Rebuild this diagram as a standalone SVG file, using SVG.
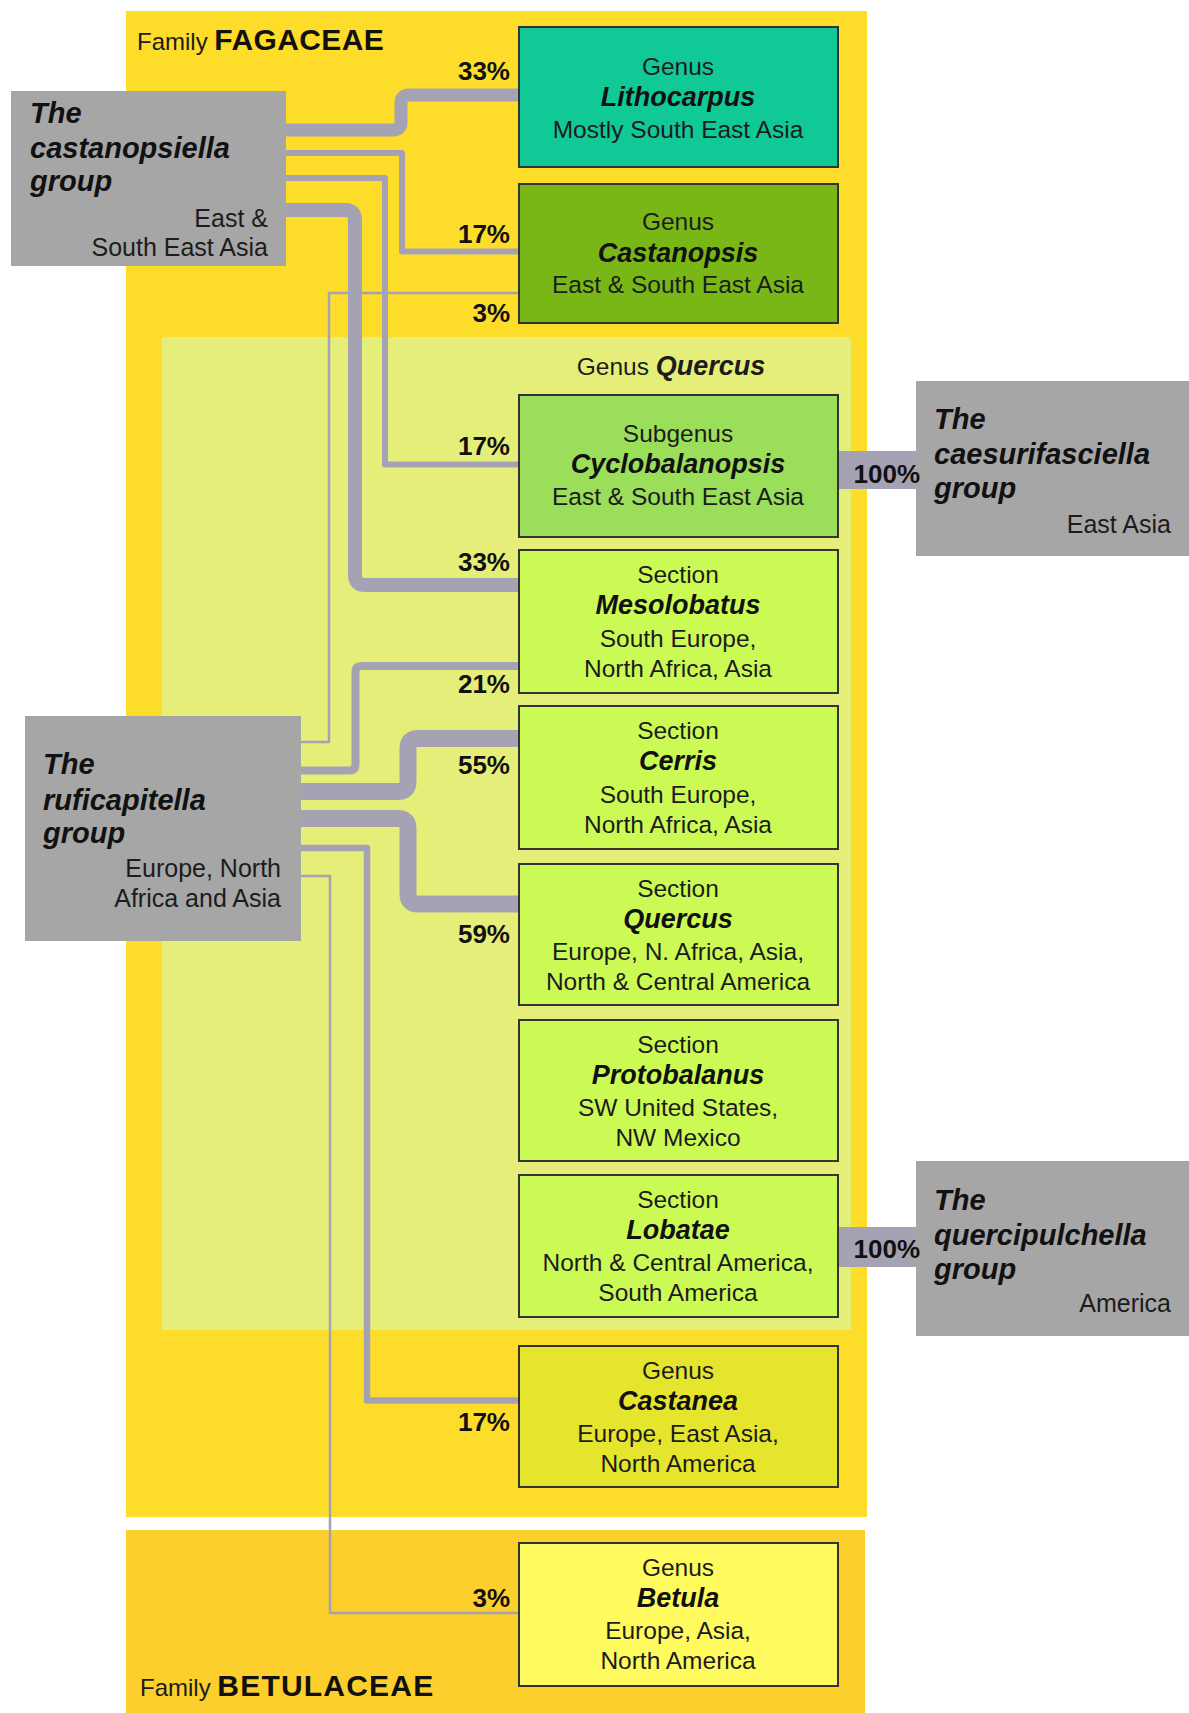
<svg xmlns="http://www.w3.org/2000/svg" width="1189" height="1713" viewBox="0 0 1189 1713">
<style>
text{font-family:"Liberation Sans",Arial,sans-serif;fill:#1c1c1c}
.reg{font-size:24.5px;text-anchor:middle}
.name{font-size:27px;font-weight:bold;font-style:italic;text-anchor:middle;fill:#111}
.pct{font-size:26px;font-weight:bold;text-anchor:end;fill:#111}
.grp{fill:#a6a6a6}
.gt{font-size:29px;font-weight:bold;font-style:italic;fill:#111}
.gr{font-size:25px;text-anchor:end}
.box{stroke:#333;stroke-width:2}
.con{fill:none;stroke:#a5a3b3;stroke-linejoin:round}
.fam{font-size:24px}
.famb{font-size:30px;font-weight:bold;fill:#111}
</style>
<rect x="0" y="0" width="1189" height="1713" fill="#fff"/>
<g id="backgrounds">
<rect x="126" y="11" width="741" height="1506" fill="#fedc2a"/>
<rect x="126" y="1530" width="739" height="183" fill="#fccf2c"/>
<rect x="162" y="337" width="689" height="993" fill="#e4ee78"/>
<text x="137" y="50" class="fam">Family <tspan class="famb" style="letter-spacing:0.4px">FAGACEAE</tspan></text>
<text x="140" y="1696" class="fam">Family <tspan class="famb" style="letter-spacing:1.2px">BETULACEAE</tspan></text>
<text x="671" y="375" class="reg">Genus  <tspan style="font-weight:bold;font-style:italic;font-size:27px">Quercus</tspan></text>
</g>
<g id="connectors">
<path class="con" stroke-width="13" d="M286,130 H393 Q401,130 401,122 V103 Q401,95 409,95 H519"/>
<path class="con" stroke-width="6" d="M286,153 H402 V251.5 H519"/>
<path class="con" stroke-width="6" d="M286,178 H385 V464.5 H519"/>
<path class="con" stroke-width="14" d="M286,210 H345 Q355,210 355,220 V575 Q355,585 365,585 H519"/>
<path class="con" stroke-width="2.5" d="M301,742 H329 V293 H519"/>
<path class="con" stroke-width="8" d="M301,770.5 H349.5 Q355.5,770.5 355.5,764.5 V672 Q355.5,666 361.5,666 H519"/>
<path class="con" stroke-width="17" d="M301,791.5 H398 Q408,791.5 408,781.5 V748.5 Q408,738.5 418,738.5 H519"/>
<path class="con" stroke-width="17" d="M301,818.5 H398 Q408,818.5 408,828.5 V894 Q408,904 418,904 H519"/>
<path class="con" stroke-width="6.5" d="M301,848 H367 V1400.5 H519"/>
<path class="con" stroke-width="2.5" d="M301,876 H330 V1613 H519"/>
<rect x="838" y="451" width="78" height="38" fill="#a5a3b3"/>
<rect x="838" y="1227" width="78" height="40" fill="#a5a3b3"/>
</g>
<g id="castanopsiella">
<rect class="grp" x="11" y="91" width="275" height="175"/>
<text class="gt" x="30" y="123">The</text>
<text class="gt" x="30" y="158">castanopsiella</text>
<text class="gt" x="30" y="191">group</text>
<text class="gr" x="268" y="227">East &amp;</text>
<text class="gr" x="268" y="256">South East Asia</text>
</g>
<g id="ruficapitella">
<rect class="grp" x="25" y="716" width="276" height="225"/>
<text class="gt" x="43" y="774">The</text>
<text class="gt" x="43" y="810">ruficapitella</text>
<text class="gt" x="43" y="843">group</text>
<text class="gr" x="281" y="877">Europe, North</text>
<text class="gr" x="281" y="907">Africa and Asia</text>
</g>
<g id="caesurifasciella">
<rect class="grp" x="916" y="381" width="273" height="175"/>
<text class="gt" x="934" y="429">The</text>
<text class="gt" x="934" y="464">caesurifasciella</text>
<text class="gt" x="934" y="498">group</text>
<text class="gr" x="1171" y="533">East Asia</text>
</g>
<g id="quercipulchella">
<rect class="grp" x="916" y="1161" width="273" height="175"/>
<text class="gt" x="934" y="1210">The</text>
<text class="gt" x="934" y="1245">quercipulchella</text>
<text class="gt" x="934" y="1279">group</text>
<text class="gr" x="1171" y="1312">America</text>
</g>
<g id="lithocarpus">
<rect class="box" x="519" y="27" width="319" height="140" fill="#10c996"/>
<text class="reg" x="678" y="75">Genus</text>
<text class="name" x="678" y="106">Lithocarpus</text>
<text class="reg" x="678" y="138">Mostly South East Asia</text>
</g>
<g id="castanopsis">
<rect class="box" x="519" y="184" width="319" height="139" fill="#78b716"/>
<text class="reg" x="678" y="230">Genus</text>
<text class="name" x="678" y="262">Castanopsis</text>
<text class="reg" x="678" y="293">East &amp; South East Asia</text>
</g>
<g id="cyclobalanopsis">
<rect class="box" x="519" y="395" width="319" height="142" fill="#9ade5a"/>
<text class="reg" x="678" y="442">Subgenus</text>
<text class="name" x="678" y="473">Cyclobalanopsis</text>
<text class="reg" x="678" y="505">East &amp; South East Asia</text>
</g>
<g id="mesolobatus">
<rect class="box" x="519" y="550" width="319" height="143" fill="#ccfa55"/>
<text class="reg" x="678" y="583">Section</text>
<text class="name" x="678" y="614">Mesolobatus</text>
<text class="reg" x="678" y="647">South Europe,</text>
<text class="reg" x="678" y="677">North Africa, Asia</text>
</g>
<g id="cerris">
<rect class="box" x="519" y="706" width="319" height="143" fill="#ccfa55"/>
<text class="reg" x="678" y="739">Section</text>
<text class="name" x="678" y="770">Cerris</text>
<text class="reg" x="678" y="803">South Europe,</text>
<text class="reg" x="678" y="833">North Africa, Asia</text>
</g>
<g id="quercus">
<rect class="box" x="519" y="864" width="319" height="141" fill="#ccfa55"/>
<text class="reg" x="678" y="897">Section</text>
<text class="name" x="678" y="928">Quercus</text>
<text class="reg" x="678" y="960">Europe, N. Africa, Asia,</text>
<text class="reg" x="678" y="990">North &amp; Central America</text>
</g>
<g id="protobalanus">
<rect class="box" x="519" y="1020" width="319" height="141" fill="#ccfa55"/>
<text class="reg" x="678" y="1053">Section</text>
<text class="name" x="678" y="1084">Protobalanus</text>
<text class="reg" x="678" y="1116">SW United States,</text>
<text class="reg" x="678" y="1146">NW Mexico</text>
</g>
<g id="lobatae">
<rect class="box" x="519" y="1175" width="319" height="142" fill="#ccfa55"/>
<text class="reg" x="678" y="1208">Section</text>
<text class="name" x="678" y="1239">Lobatae</text>
<text class="reg" x="678" y="1271">North &amp; Central America,</text>
<text class="reg" x="678" y="1301">South America</text>
</g>
<g id="castanea">
<rect class="box" x="519" y="1346" width="319" height="141" fill="#e6e52e"/>
<text class="reg" x="678" y="1379">Genus</text>
<text class="name" x="678" y="1410">Castanea</text>
<text class="reg" x="678" y="1442">Europe, East Asia,</text>
<text class="reg" x="678" y="1472">North America</text>
</g>
<g id="betula">
<rect class="box" x="519" y="1543" width="319" height="143" fill="#fffb5e"/>
<text class="reg" x="678" y="1576">Genus</text>
<text class="name" x="678" y="1607">Betula</text>
<text class="reg" x="678" y="1639">Europe, Asia,</text>
<text class="reg" x="678" y="1669">North America</text>
</g>
<g id="labels">
<text class="pct" x="510" y="80">33%</text>
<text class="pct" x="510" y="243">17%</text>
<text class="pct" x="510" y="322">3%</text>
<text class="pct" x="510" y="455">17%</text>
<text class="pct" x="510" y="571">33%</text>
<text class="pct" x="510" y="693">21%</text>
<text class="pct" x="510" y="774">55%</text>
<text class="pct" x="510" y="943">59%</text>
<text class="pct" x="510" y="1431">17%</text>
<text class="pct" x="510" y="1607">3%</text>
<text class="pct" x="920" y="483">100%</text>
<text class="pct" x="920" y="1258">100%</text>
</g>
</svg>
